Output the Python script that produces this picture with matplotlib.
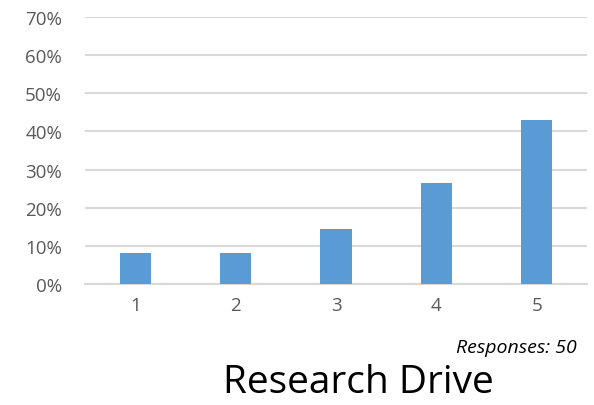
import matplotlib.pyplot as plt
from matplotlib.ticker import PercentFormatter

ratings = ['1', '2', '3', '4', '5']
share = [8.2, 8.2, 14.3, 26.5, 42.9]  # percent of respondents
yticks = [0, 10, 20, 30, 40, 50, 60, 70]

plt.rcParams['font.family'] = ['Open Sans', 'DejaVu Sans']

fig = plt.figure(figsize=(5.94, 4.06), dpi=100)
ax = fig.add_axes([85 / 594, 1 - 285 / 406, 502 / 594, 267 / 406])

x = range(len(ratings))
ax.bar(x, share, width=0.31, color='#5B9BD5', zorder=3)

ax.set_xlim(-0.5, len(ratings) - 0.5)
ax.set_ylim(0, 70)
ax.set_yticks(yticks)
ax.yaxis.set_major_formatter(PercentFormatter(decimals=0))
ax.set_xticks(list(x))
ax.set_xticklabels(ratings)
ax.grid(axis='y', color='#D9D9D9', linewidth=1.5, zorder=0)
for side in ['top', 'right', 'left']:
    ax.spines[side].set_visible(False)
ax.spines['bottom'].set_color('#D9D9D9')
ax.spines['bottom'].set_linewidth(1.5)
ax.tick_params(length=0, labelsize=13.5, labelcolor='#595959')
ax.tick_params(axis='y', pad=16.5)
ax.tick_params(axis='x', pad=9)

fig.text(577 / 594, 1 - 348 / 406, 'Responses: 50', ha='right', va='center',
         fontsize=14, style='italic', color='black')
fig.text(358 / 594, 1 - 383 / 406, 'Research Drive', ha='center', va='center',
         fontsize=28, color='black')

fig.savefig('out.png', dpi=100)
